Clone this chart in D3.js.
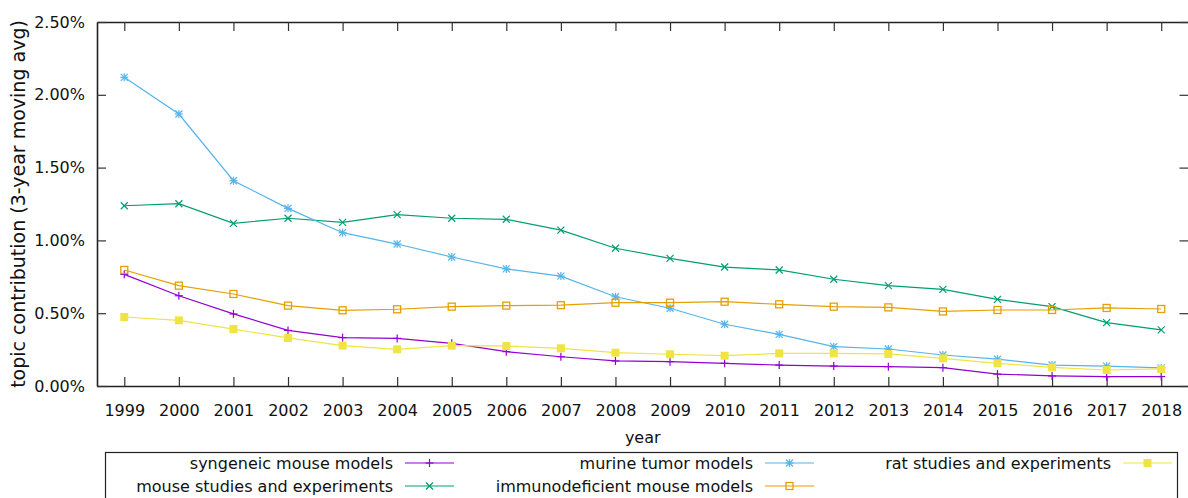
<!DOCTYPE html>
<html><head><meta charset="utf-8">
<script src="https://cdn.jsdelivr.net/npm/d3@7"></script>
<style>
html,body{margin:0;padding:0;background:#fff;}
svg{display:block;font-family:"DejaVu Sans",Verdana,sans-serif;}
</style></head>
<body><svg id="c" width="1188" height="498"></svg>
<script>
const years = [1999,2000,2001,2002,2003,2004,2005,2006,2007,2008,2009,2010,2011,2012,2013,2014,2015,2016,2017,2018];
const yTicks = [0,0.5,1,1.5,2,2.5];
const seriesNames = ["syngeneic mouse models","mouse studies and experiments","murine tumor models","immunodeficient mouse models","rat studies and experiments"];
const seriesColors = ["#9400d3","#009e73","#56b4e9","#e69f00","#f0e442"];
const seriesMarkers = ["plus","cross","star","square","filled"];
const syngeneic = [0.767,0.620,0.495,0.382,0.332,0.327,0.293,0.236,0.201,0.172,0.167,0.156,0.144,0.137,0.133,0.126,0.082,0.069,0.064,0.065];
const mouseStudies = [1.238,1.252,1.117,1.152,1.124,1.177,1.152,1.145,1.071,0.946,0.877,0.817,0.797,0.733,0.689,0.664,0.595,0.545,0.435,0.385];
const murine = [2.120,1.868,1.410,1.220,1.053,0.975,0.886,0.804,0.755,0.613,0.534,0.424,0.355,0.270,0.254,0.213,0.185,0.144,0.137,0.124];
const immunodeficient = [0.797,0.689,0.632,0.552,0.520,0.527,0.545,0.552,0.555,0.572,0.572,0.579,0.561,0.545,0.540,0.512,0.522,0.522,0.536,0.529];
const rat = [0.474,0.451,0.391,0.330,0.277,0.252,0.277,0.275,0.259,0.229,0.218,0.208,0.224,0.224,0.220,0.190,0.156,0.128,0.110,0.117];
const seriesValues = [syngeneic, mouseStudies, murine, immunodeficient, rat];

const svg = d3.select("#c");
const L = 97, R = 1188.5, T = 22, B = 386;
const x = d3.scaleLinear().domain([1998.5, 2018.5]).range([L, R]);
const y = d3.scaleLinear().domain([0, 2.5]).range([B, T]);
const fmt = d => d.toFixed(2) + "%";
const FS = 16;

// axes (gnuplot-like inward ticks, mirrored)
const tk = 9;
const gB = svg.append("g").attr("transform", `translate(0,${B})`)
  .call(d3.axisBottom(x).tickValues(years).tickFormat(d3.format("d")).tickSizeInner(-tk).tickSizeOuter(0).tickPadding(22));
const gT = svg.append("g").attr("transform", `translate(0,${T})`)
  .call(d3.axisTop(x).tickValues(years).tickFormat("").tickSizeInner(-tk).tickSizeOuter(0));
const gL = svg.append("g").attr("transform", `translate(${L},0)`)
  .call(d3.axisLeft(y).tickValues(yTicks).tickFormat(fmt).tickSizeInner(-tk).tickSizeOuter(0).tickPadding(12));
const gR = svg.append("g").attr("transform", `translate(${R},0)`)
  .call(d3.axisRight(y).tickValues(yTicks).tickFormat("").tickSizeInner(-tk).tickSizeOuter(0));
[gB,gT,gL,gR].forEach(g => {
  g.select(".domain").attr("stroke","#222").attr("stroke-width",1.6);
  g.selectAll(".tick line").attr("stroke","#333").attr("stroke-width",1.2);
  g.selectAll(".tick text").attr("font-size",FS).attr("fill","#111").attr("font-family","DejaVu Sans");
});
gB.selectAll(".tick text").attr("dy","0.35em").attr("y", 24);

// axis titles
svg.append("text").attr("x", (L+R)/2 + 0).attr("y", 443).attr("text-anchor","middle")
  .attr("font-size",FS).attr("fill","#111").text("year");
svg.append("text").attr("transform", `translate(25,${(T+B)/2}) rotate(-90)`).attr("text-anchor","middle")
  .attr("font-size",19).attr("fill","#111").text("topic contribution (3-year moving avg)");

// markers
function marker(g, type, cx, cy, color){
  const s = 4;
  if (type === "plus" || type === "star") {
    g.append("line").attr("x1",cx-s).attr("x2",cx+s).attr("y1",cy).attr("y2",cy).attr("stroke",color).attr("stroke-width",1.2);
    g.append("line").attr("x1",cx).attr("x2",cx).attr("y1",cy-s).attr("y2",cy+s).attr("stroke",color).attr("stroke-width",1.2);
  }
  if (type === "cross" || type === "star") {
    const d = 3.5;
    g.append("line").attr("x1",cx-d).attr("x2",cx+d).attr("y1",cy-d).attr("y2",cy+d).attr("stroke",color).attr("stroke-width",1.2);
    g.append("line").attr("x1",cx-d).attr("x2",cx+d).attr("y1",cy+d).attr("y2",cy-d).attr("stroke",color).attr("stroke-width",1.2);
  }
  if (type === "square") {
    g.append("rect").attr("x",cx-3.5).attr("y",cy-3.5).attr("width",7).attr("height",7)
      .attr("fill","none").attr("stroke",color).attr("stroke-width",1.3);
  }
  if (type === "filled") {
    g.append("rect").attr("x",cx-4).attr("y",cy-4).attr("width",8).attr("height",8).attr("fill",color);
  }
}

const line = d3.line().x(d => x(d[0])).y(d => y(d[1]));
seriesValues.forEach((vals, i) => {
  const pts = years.map((yr, j) => [yr, vals[j]]);
  const g = svg.append("g");
  g.append("path").datum(pts).attr("d", line).attr("fill","none")
    .attr("stroke", seriesColors[i]).attr("stroke-width", 1.2);
  pts.forEach(p => marker(g, seriesMarkers[i], x(p[0]), y(p[1]), seriesColors[i]));
});

// legend
svg.append("rect").attr("x",105.5).attr("y",452.5).attr("width",1072).attr("height",60)
  .attr("fill","none").attr("stroke","#222").attr("stroke-width",1.2);
const colEnds = [393, 753, 1111];
const rowY = [463, 486];
seriesNames.forEach((name, i) => {
  const col = Math.floor(i/2), row = i % 2;
  const xe = colEnds[col], yc = rowY[row];
  svg.append("text").attr("x", xe).attr("y", yc).attr("dy","0.35em").attr("text-anchor","end")
    .attr("font-size",FS).attr("fill","#111").text(name);
  const g = svg.append("g");
  g.append("line").attr("x1", xe+12).attr("x2", xe+61).attr("y1", yc).attr("y2", yc)
    .attr("stroke", seriesColors[i]).attr("stroke-width",1.2);
  marker(g, seriesMarkers[i], xe+36.5, yc, seriesColors[i]);
});
</script></body></html>
